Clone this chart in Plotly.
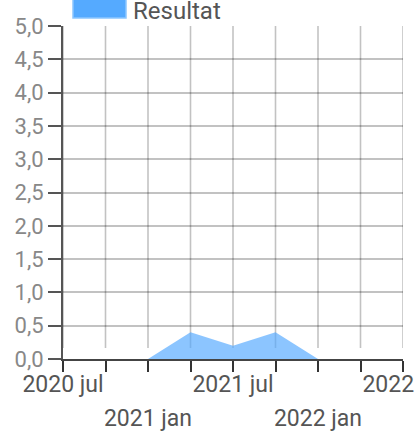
import plotly.graph_objects as go

months = ["2020 jul", "2020 okt", "2021 jan", "2021 apr", "2021 jul",
          "2021 okt", "2022 jan", "2022 apr", "2022 jul"]
resultat = [None, None, 0.0, 0.4, 0.2, 0.4, 0.0, 0.0, None]
row1_labels = ["2020 jul", "2021 jul", "2022 jul"]
row2_labels = ["2021 jan", "2022 jan"]
series_name = "Resultat"

FONT = "Roboto"
GRID = "rgba(0,0,0,0.24)"
fig = go.Figure()
fig.add_trace(go.Scatter(
    x=months, y=resultat, name=series_name, mode="lines",
    line=dict(width=0, color="rgba(85,170,255,0.7)"),
    fill="tozeroy", fillcolor="rgba(85,170,255,0.68)",
    showlegend=False, connectgaps=False,
))
fig.add_trace(go.Scatter(
    x=months, y=[None] * len(months), xaxis="x2", mode="lines",
    showlegend=False, hoverinfo="skip",
))

# vertical grid lines that stop just above the x axis
for m in months:
    fig.add_shape(type="line", xref="x", yref="paper", x0=m, x1=m, y0=0.033, y1=1,
                  line=dict(color=GRID, width=1.6), layer="below")

# legend drawn manually (wide colour box + label)
fig.add_shape(type="rect", xref="paper", yref="paper",
              x0=(73 - 63) / 340, x1=(126 - 63) / 340,
              y0=(359 - 18) / 333, y1=(359 + 1) / 333,
              fillcolor="#55aaff", line=dict(color="#8cc6ff", width=1.5))
fig.add_annotation(text=series_name, xref="paper", yref="paper",
                   x=(131 - 63) / 340, y=(359 - 11) / 333, xanchor="left", yanchor="middle",
                   showarrow=False, font=dict(family=FONT, size=24, color="#555555"))

fig.update_layout(
    width=415, height=440,
    margin=dict(l=63, r=12, t=26, b=81, autoexpand=False),
    paper_bgcolor="white", plot_bgcolor="white",
    separators=", ",
    font=dict(family=FONT, size=22, color="#666666"),
    xaxis=dict(
        type="category", categoryorder="array", categoryarray=months,
        range=[0, len(months) - 1], automargin=False,
        tickmode="array", tickvals=months,
        ticktext=[m if m in row1_labels else "" for m in months],
        ticks="outside", ticklen=11, tickwidth=2, tickcolor="#333333",
        showgrid=False, showline=True, linecolor="#444444", linewidth=2,
        tickfont=dict(family=FONT, size=23, color="#555555"),
        ticklabelstandoff=-8,
        zeroline=False,
    ),
    xaxis2=dict(
        type="category", categoryorder="array", categoryarray=months,
        overlaying="x", anchor="y", side="bottom", automargin=False,
        range=[0, len(months) - 1],
        tickmode="array", tickvals=row2_labels, ticktext=row2_labels,
        ticks="", showgrid=False, showline=False, zeroline=False,
        ticklabelstandoff=43,
        tickfont=dict(family=FONT, size=23, color="#555555"),
    ),
    yaxis=dict(
        range=[0, 5], dtick=0.5, tick0=0, tickformat=".1f", automargin=False,
        ticks="outside", ticklen=13, tickwidth=2, tickcolor="#555555",
        showgrid=True, gridcolor=GRID, gridwidth=1.6,
        showline=True, linecolor="#555555", linewidth=2,
        zeroline=False,
        tickfont=dict(family=FONT, size=22, color="#888888"),
    ),
)

fig.write_html("out.html", config={"displayModeBar": False},
               post_script="document.body.style.margin='0px';")
